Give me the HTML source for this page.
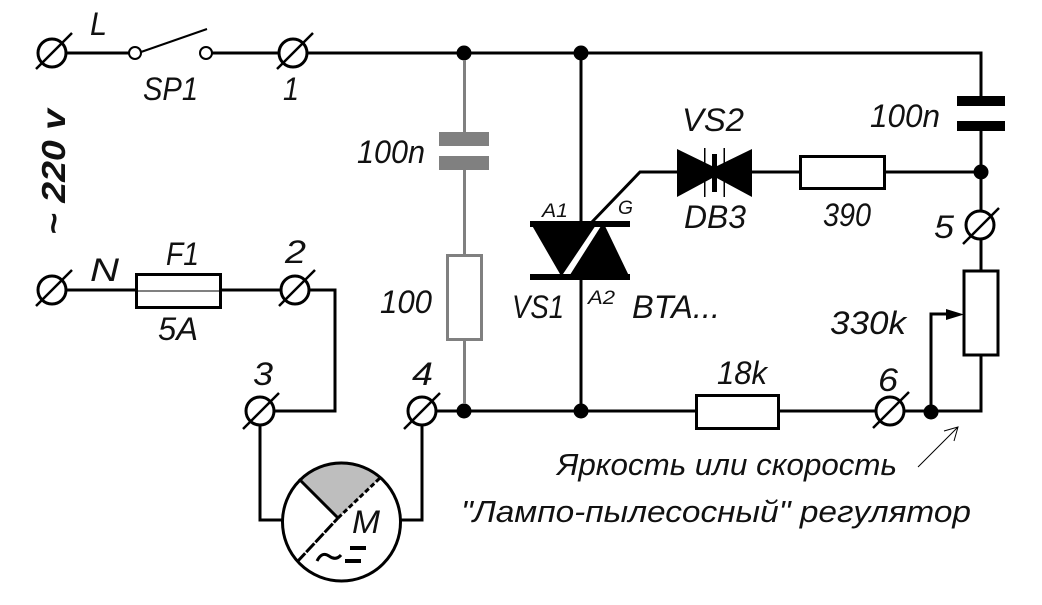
<!DOCTYPE html>
<html><head><meta charset="utf-8"><style>
html,body{margin:0;padding:0;background:#fff}
svg{display:block}
text{font-family:"Liberation Sans",sans-serif;font-style:italic;fill:#111}
</style></head><body>
<svg width="1042" height="605" viewBox="0 0 1042 605" xmlns="http://www.w3.org/2000/svg">
<rect width="1042" height="605" fill="#fff"/>
<g fill="none" stroke="#000" stroke-width="3">
<path d="M66 53H129M212 53H279M307 53H981V98M981 128V211M981 239V271M981 354V411H904M876 411H778M696 411H436"/>
<path d="M141 52L207 29" stroke-width="2"/>
<path d="M581 53V222M581 278V411M592 222L640 172H680M752 172H800M885 172H981"/>
<path d="M66 290H136M220 290H281M309 290H335V411H274M260 425V520H282M422 425V520H400"/>
<path d="M931 411V314H950"/>
<rect x="136.500" y="274.500" width="84" height="33"/>
<path d="M136 291H220" stroke-width="1"/>
<rect x="800.500" y="156.500" width="84" height="32"/>
<rect x="696.500" y="395.500" width="82" height="33"/>
<rect x="964" y="271" width="34" height="84"/>
<circle cx="135" cy="53" r="6" stroke-width="2"/>
<circle cx="206" cy="53" r="6" stroke-width="2"/>
</g>
<g fill="#fff" stroke="#000" stroke-width="3">
<circle cx="52" cy="53" r="14"/><path d="M36 69L72 33" stroke-width="2.500"/>
<circle cx="293" cy="53" r="14"/><path d="M277 69L313 33" stroke-width="2.500"/>
<circle cx="52" cy="290" r="14"/><path d="M36 306L72 270" stroke-width="2.500"/>
<circle cx="295" cy="290" r="14"/><path d="M279 306L315 270" stroke-width="2.500"/>
<circle cx="260" cy="411" r="14"/><path d="M243 429L279 393" stroke-width="2.500"/>
<circle cx="422" cy="411" r="14"/><path d="M404 429L440 393" stroke-width="2.500"/>
<circle cx="890" cy="411" r="14"/><path d="M873 428L909 392" stroke-width="2.500"/>
<circle cx="980" cy="225" r="14"/><path d="M963 244L999 208" stroke-width="2.500"/>
</g>
<g fill="#000">
<circle cx="464" cy="53" r="7.500"/><circle cx="581" cy="53" r="7.500"/>
<circle cx="981" cy="172" r="7.500"/>
<circle cx="464" cy="411" r="7.500"/><circle cx="581" cy="411" r="7.500"/><circle cx="931" cy="412" r="7.500"/>
<path d="M946 309L964 314.500L946 320Z"/>
<rect x="957" y="96" width="48" height="10"/><rect x="957" y="121" width="48" height="10"/>
<rect x="530" y="221" width="100" height="6"/>
<rect x="530" y="274" width="100" height="6"/>
<path d="M530 222H598L563 274H560Z"/>
<path d="M601 226H605L630 278H568Z"/>
<path d="M677 149V197L716 176V168Z"/><path d="M752 149V197L713 176V168Z"/>
<rect x="712" y="154" width="5" height="38"/>
<rect x="704" y="148" width="1.500" height="49"/><rect x="723.500" y="148" width="1.500" height="49"/>
</g>
<g fill="none" stroke="#808080" stroke-width="3">
<path d="M464.500 60V132M464.500 168V256M464.500 340V404"/>
<rect x="447.500" y="255.500" width="34" height="84"/>
</g>
<rect x="439" y="132" width="50" height="14" fill="#808080"/>
<rect x="439" y="156" width="50" height="14" fill="#808080"/>
<path d="M299 479A59 59 0 0 1 381 477L338 518Z" fill="#bebebe"/>
<circle cx="341.500" cy="522" r="59" fill="none" stroke="#000" stroke-width="3"/>
<path d="M299 479L338 518" stroke="#000" stroke-width="3" fill="none"/>
<path d="M297 562L338 518" stroke="#000" stroke-width="3" stroke-dasharray="12 1.500" fill="none"/>
<path d="M338 518L381 477" stroke="#000" stroke-width="3" stroke-dasharray="5 2.500" fill="none"/>
<path d="M317 561Q322 551 329 556T341 555" stroke="#000" stroke-width="3" fill="none"/>
<path d="M350 548H366M345 561H361" stroke="#000" stroke-width="4" fill="none"/>
<path d="M918 467L958 427M944 431L958 427L954 441" stroke="#000" stroke-width="1" fill="none"/>
<g font-size="32">
<text x="90" y="35" textLength="17" lengthAdjust="spacingAndGlyphs">L</text>
<text x="143" y="100" textLength="55" lengthAdjust="spacingAndGlyphs">SP1</text>
<text x="283" y="100" textLength="16" lengthAdjust="spacingAndGlyphs">1</text>
<text x="90" y="281" textLength="29" lengthAdjust="spacingAndGlyphs">N</text>
<text x="166" y="265" textLength="33" lengthAdjust="spacingAndGlyphs">F1</text>
<text x="158" y="340" textLength="40" lengthAdjust="spacingAndGlyphs">5A</text>
<text x="285" y="263" textLength="21" lengthAdjust="spacingAndGlyphs">2</text>
<text x="253" y="385" textLength="20" lengthAdjust="spacingAndGlyphs">3</text>
<text x="412" y="385" textLength="21" lengthAdjust="spacingAndGlyphs">4</text>
<text x="878" y="391" textLength="20" lengthAdjust="spacingAndGlyphs">6</text>
<text x="934" y="238" textLength="20" lengthAdjust="spacingAndGlyphs">5</text>
<text x="357" y="163" textLength="68" lengthAdjust="spacingAndGlyphs">100n</text>
<text x="380" y="313" textLength="52" lengthAdjust="spacingAndGlyphs">100</text>
<text x="870" y="127" textLength="70" lengthAdjust="spacingAndGlyphs">100n</text>
<text x="682" y="131" textLength="62" lengthAdjust="spacingAndGlyphs">VS2</text>
<text x="684" y="228" textLength="62" lengthAdjust="spacingAndGlyphs">DB3</text>
<text x="823" y="226" textLength="48" lengthAdjust="spacingAndGlyphs">390</text>
<text x="512" y="318" textLength="52" lengthAdjust="spacingAndGlyphs">VS1</text>
<text x="632" y="318" textLength="88" lengthAdjust="spacingAndGlyphs">BTA...</text>
<text x="830" y="334" textLength="76" lengthAdjust="spacingAndGlyphs">330k</text>
<text x="717" y="384" textLength="50" lengthAdjust="spacingAndGlyphs">18k</text>
<text x="352" y="533" textLength="28" lengthAdjust="spacingAndGlyphs">M</text>
</g>
<g font-size="19">
<text x="542" y="217" textLength="26" lengthAdjust="spacingAndGlyphs">A1</text>
<text x="618" y="214" textLength="15" lengthAdjust="spacingAndGlyphs">G</text>
<text x="588" y="304" textLength="27" lengthAdjust="spacingAndGlyphs">A2</text>
</g>
<text transform="translate(65 235) rotate(-90)" font-size="33" font-weight="bold" textLength="126" lengthAdjust="spacingAndGlyphs">~ 220 v</text>
<text x="557" y="475" font-size="31" textLength="340" lengthAdjust="spacingAndGlyphs">Яркость или скорость</text>
<text x="461" y="522" font-size="31" textLength="510" lengthAdjust="spacingAndGlyphs">"Лампо-пылесосный" регулятор</text>
</svg>
</body></html>
